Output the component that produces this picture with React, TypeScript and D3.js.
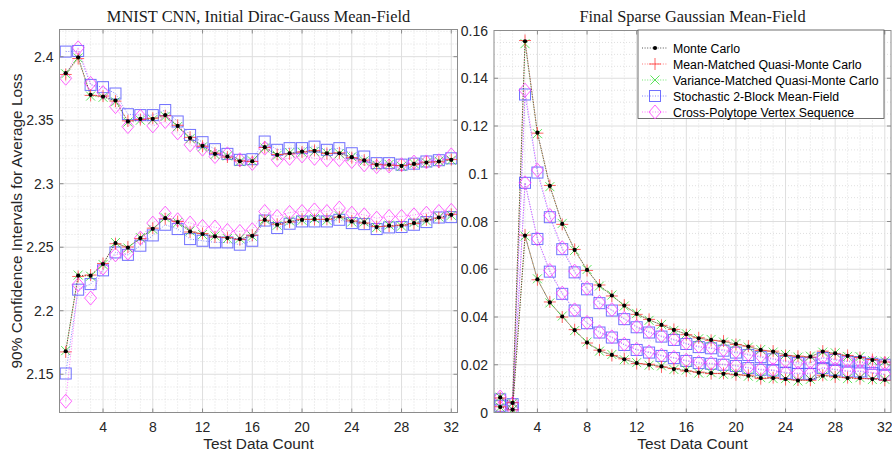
import React, { useEffect, useRef } from 'react';
import * as d3 from 'd3';

// test data count (x axis)
const testCounts = [1, 2, 3, 4, 5, 6, 7, 8, 9, 10, 11, 12, 13, 14, 15, 16, 17, 18, 19, 20, 21, 22, 23, 24, 25, 26, 27, 28, 29, 30, 31, 32];
const xTicks = [4, 8, 12, 16, 20, 24, 28, 32];

const methodNames = [
  'Monte Carlo',
  'Mean-Matched Quasi-Monte Carlo',
  'Variance-Matched Quasi-Monte Carlo',
  'Stochastic 2-Block Mean-Field',
  'Cross-Polytope Vertex Sequence',
];

// left panel: MNIST CNN, initial Dirac-Gauss mean-field (upper / lower CI bounds)
const mnistMcHi = [2.387, 2.3995, 2.370, 2.3686, 2.3655, 2.349, 2.351, 2.351, 2.354, 2.3455, 2.336, 2.3298, 2.3235, 2.3214, 2.3177, 2.3177, 2.3288, 2.3227, 2.324, 2.3253, 2.3258, 2.324, 2.324, 2.3209, 2.3183, 2.3149, 2.3149, 2.314, 2.3156, 2.3167, 2.3175, 2.3188];
const mnistMmHi = [2.386, 2.3985, 2.3695, 2.3690, 2.3650, 2.3495, 2.3505, 2.3515, 2.3535, 2.3460, 2.3365, 2.3295, 2.3240, 2.3210, 2.3180, 2.3175, 2.3285, 2.3230, 2.3235, 2.3250, 2.3262, 2.3238, 2.3243, 2.3205, 2.3186, 2.3152, 2.3146, 2.3143, 2.3153, 2.3170, 2.3172, 2.3190];
const mnistVmHi = [2.3865, 2.3990, 2.3690, 2.3680, 2.3645, 2.3485, 2.3500, 2.3505, 2.3530, 2.3450, 2.3355, 2.3290, 2.3230, 2.3218, 2.3174, 2.3180, 2.3282, 2.3224, 2.3244, 2.3248, 2.3255, 2.3242, 2.3237, 2.3212, 2.3180, 2.3146, 2.3152, 2.3137, 2.3159, 2.3164, 2.3178, 2.3185];
const mnistS2bHi = [2.404, 2.4045, 2.3778, 2.376, 2.371, 2.3547, 2.354, 2.354, 2.358, 2.349, 2.3384, 2.3327, 2.3272, 2.3235, 2.3188, 2.3193, 2.3332, 2.3267, 2.328, 2.328, 2.3292, 2.3267, 2.328, 2.324, 2.3214, 2.3162, 2.3162, 2.315, 2.3158, 2.3175, 2.3185, 2.320];
const mnistCpHi = [2.383, 2.407, 2.379, 2.3717, 2.3607, 2.345, 2.353, 2.3455, 2.349, 2.340, 2.3306, 2.3272, 2.3214, 2.3235, 2.3188, 2.316, 2.328, 2.3188, 2.320, 2.3219, 2.320, 2.3188, 2.319, 2.3175, 2.3149, 2.3135, 2.314, 2.315, 2.317, 2.3172, 2.318, 2.3227];

const mnistMcLo = [2.1681, 2.2276, 2.2276, 2.2368, 2.2533, 2.2498, 2.2572, 2.2645, 2.2729, 2.2698, 2.2624, 2.2604, 2.2585, 2.2572, 2.2564, 2.259, 2.2716, 2.2677, 2.2703, 2.2716, 2.2722, 2.2716, 2.2742, 2.2703, 2.2695, 2.2659, 2.267, 2.267, 2.269, 2.2711, 2.2734, 2.2755];
const mnistMmLo = [2.1676, 2.2270, 2.2281, 2.2372, 2.2528, 2.2502, 2.2568, 2.2650, 2.2724, 2.2702, 2.2620, 2.2608, 2.2581, 2.2576, 2.2560, 2.2594, 2.2712, 2.2681, 2.2699, 2.2720, 2.2718, 2.2720, 2.2738, 2.2707, 2.2691, 2.2663, 2.2666, 2.2674, 2.2686, 2.2715, 2.2730, 2.2759];
const mnistVmLo = [2.1686, 2.2281, 2.2272, 2.2364, 2.2537, 2.2494, 2.2576, 2.2641, 2.2733, 2.2694, 2.2628, 2.2600, 2.2589, 2.2568, 2.2568, 2.2586, 2.2720, 2.2673, 2.2707, 2.2712, 2.2726, 2.2712, 2.2746, 2.2699, 2.2699, 2.2655, 2.2674, 2.2666, 2.2694, 2.2707, 2.2738, 2.2751];
const mnistS2bLo = [2.1506, 2.2166, 2.221, 2.2318, 2.2459, 2.244, 2.2512, 2.2593, 2.2677, 2.2643, 2.2564, 2.2551, 2.2538, 2.2538, 2.252, 2.2551, 2.271, 2.2651, 2.2685, 2.2703, 2.2703, 2.2703, 2.2716, 2.269, 2.2682, 2.2643, 2.2656, 2.2659, 2.2677, 2.2698, 2.2734, 2.2737];
const mnistCpLo = [2.1288, 2.2205, 2.210, 2.2336, 2.244, 2.2454, 2.2572, 2.269, 2.2768, 2.2716, 2.269, 2.2664, 2.2659, 2.2632, 2.2624, 2.2638, 2.2781, 2.2742, 2.2774, 2.2781, 2.2794, 2.2781, 2.2808, 2.2768, 2.2755, 2.2729, 2.2742, 2.2742, 2.2755, 2.2768, 2.2781, 2.279];

// right panel: final sparse Gaussian mean-field
const sparseMcHi = [0.0063, 0.0040, 0.1555, 0.1172, 0.0949, 0.0790, 0.0681, 0.0597, 0.0532, 0.0490, 0.0448, 0.0413, 0.0388, 0.0367, 0.0346, 0.0328, 0.0311, 0.0304, 0.0297, 0.0287, 0.0276, 0.0262, 0.0255, 0.0241, 0.0234, 0.0234, 0.0255, 0.0248, 0.0237, 0.0232, 0.0220, 0.0213];
const sparseMmHi = [0.0061, 0.0041, 0.1558, 0.1170, 0.0951, 0.0788, 0.0683, 0.0595, 0.0534, 0.0488, 0.0450, 0.0411, 0.0390, 0.0365, 0.0348, 0.0326, 0.0313, 0.0302, 0.0299, 0.0285, 0.0278, 0.0260, 0.0257, 0.0239, 0.0236, 0.0232, 0.0257, 0.0246, 0.0239, 0.0230, 0.0222, 0.0211];
const sparseVmHi = [0.0064, 0.0039, 0.1545, 0.1168, 0.0946, 0.0792, 0.0679, 0.0599, 0.0530, 0.0492, 0.0446, 0.0415, 0.0386, 0.0369, 0.0344, 0.0330, 0.0309, 0.0306, 0.0295, 0.0289, 0.0274, 0.0264, 0.0253, 0.0243, 0.0232, 0.0236, 0.0253, 0.0250, 0.0235, 0.0234, 0.0218, 0.0215];
const sparseS2bHi = [0.0055, 0.0035, 0.1332, 0.1005, 0.0818, 0.0684, 0.0587, 0.0516, 0.0458, 0.0427, 0.0391, 0.0357, 0.0335, 0.0318, 0.0304, 0.0287, 0.0274, 0.0269, 0.0259, 0.0251, 0.0241, 0.0232, 0.0223, 0.0213, 0.0207, 0.0207, 0.0228, 0.0220, 0.0213, 0.0210, 0.0204, 0.0200];
const sparseCpHi = [0.0065, 0.0038, 0.1350, 0.1015, 0.0825, 0.0690, 0.0592, 0.0521, 0.0462, 0.0431, 0.0395, 0.0361, 0.0339, 0.0322, 0.0308, 0.0291, 0.0278, 0.0272, 0.0263, 0.0256, 0.0245, 0.0236, 0.0227, 0.0217, 0.0211, 0.0211, 0.0232, 0.0224, 0.0217, 0.0214, 0.0208, 0.0204];

const sparseMcLo = [0.0023, 0.0012, 0.0741, 0.0558, 0.0461, 0.0402, 0.0345, 0.0293, 0.0259, 0.0241, 0.0223, 0.0207, 0.0200, 0.0193, 0.0182, 0.0176, 0.0167, 0.0165, 0.0162, 0.0160, 0.0154, 0.0144, 0.0144, 0.0140, 0.0134, 0.0137, 0.0154, 0.0151, 0.0144, 0.0144, 0.0140, 0.0137];
const sparseMmLo = [0.0024, 0.0011, 0.0743, 0.0556, 0.0463, 0.0400, 0.0347, 0.0291, 0.0261, 0.0239, 0.0225, 0.0205, 0.0202, 0.0191, 0.0184, 0.0174, 0.0169, 0.0163, 0.0164, 0.0158, 0.0156, 0.0142, 0.0146, 0.0138, 0.0136, 0.0135, 0.0156, 0.0149, 0.0146, 0.0142, 0.0142, 0.0135];
const sparseVmLo = [0.0022, 0.0013, 0.0739, 0.0560, 0.0459, 0.0404, 0.0343, 0.0295, 0.0257, 0.0243, 0.0221, 0.0209, 0.0198, 0.0195, 0.0180, 0.0178, 0.0165, 0.0167, 0.0160, 0.0162, 0.0152, 0.0146, 0.0142, 0.0142, 0.0132, 0.0139, 0.0152, 0.0153, 0.0142, 0.0146, 0.0138, 0.0139];
const sparseS2bLo = [0.0028, 0.0018, 0.0962, 0.0727, 0.0590, 0.0497, 0.0427, 0.0374, 0.0335, 0.0314, 0.0283, 0.0262, 0.0251, 0.0237, 0.0228, 0.0216, 0.0207, 0.0204, 0.0200, 0.0195, 0.0186, 0.0179, 0.0176, 0.0165, 0.0162, 0.0162, 0.0186, 0.0179, 0.0172, 0.0172, 0.0165, 0.0158];
const sparseCpLo = [0.0020, 0.0015, 0.0962, 0.0727, 0.0595, 0.0500, 0.0430, 0.0377, 0.0338, 0.0317, 0.0286, 0.0265, 0.0254, 0.0240, 0.0231, 0.0219, 0.0210, 0.0207, 0.0203, 0.0198, 0.0189, 0.0182, 0.0179, 0.0168, 0.0165, 0.0165, 0.0189, 0.0182, 0.0175, 0.0175, 0.0168, 0.0161];

const mnistYTicks = [2.15, 2.2, 2.25, 2.3, 2.35, 2.4];
const sparseYTicks = [0, 0.02, 0.04, 0.06, 0.08, 0.1, 0.12, 0.14, 0.16];

// style per method, same order as methodNames
const styles = [
  { color: '#000000', marker: 'dot' },
  { color: '#ff3c3c', marker: 'plus' },
  { color: '#33dd33', marker: 'cross' },
  { color: '#4d4dff', marker: 'square' },
  { color: '#ff3dff', marker: 'diamond' },
];
// drawing order (black dots end up on top)
const drawOrder = [3, 4, 2, 1, 0];

const SANS = 'Liberation Sans, Arial, Helvetica, sans-serif';
const SERIF = 'Liberation Serif, Times New Roman, serif';

function addMarker(sel: any, kind: string, color: string, cx: number, cy: number) {
  if (kind === 'dot') {
    sel.append('circle').attr('cx', cx).attr('cy', cy).attr('r', 2.1).attr('fill', color);
  } else if (kind === 'plus') {
    sel.append('path').attr('d', `M${cx - 6},${cy}H${cx + 6}M${cx},${cy - 6}V${cy + 6}`)
      .attr('stroke', color).attr('stroke-width', 1).attr('fill', 'none').attr('opacity', 0.8);
  } else if (kind === 'cross') {
    sel.append('path').attr('d', `M${cx - 4.5},${cy - 4.5}L${cx + 4.5},${cy + 4.5}M${cx - 4.5},${cy + 4.5}L${cx + 4.5},${cy - 4.5}`)
      .attr('stroke', color).attr('stroke-width', 1).attr('fill', 'none').attr('opacity', 0.8);
  } else if (kind === 'square') {
    sel.append('rect').attr('x', cx - 5.5).attr('y', cy - 5.5).attr('width', 11).attr('height', 11)
      .attr('stroke', color).attr('stroke-width', 1).attr('fill', 'none').attr('opacity', 0.8);
  } else if (kind === 'diamond') {
    sel.append('path').attr('d', `M${cx},${cy - 7}L${cx + 6},${cy}L${cx},${cy + 7}L${cx - 6},${cy}Z`)
      .attr('stroke', color).attr('stroke-width', 1).attr('fill', 'none').attr('opacity', 0.8);
  }
}

function drawPanel(svg: any, o: any) {
  const x = d3.scaleLinear().domain([0.5, 32.5]).range([o.left, o.left + o.width]);
  const y = d3.scaleLinear().domain(o.yDomain).range([o.top + o.height, o.top]);
  const g = svg.append('g');
  const x0 = o.left, x1 = o.left + o.width, y0 = o.top, y1 = o.top + o.height;

  // minor grid
  g.selectAll('line.xm').data(testCounts.filter(d => !xTicks.includes(d))).join('line')
    .attr('x1', (d: number) => x(d)).attr('x2', (d: number) => x(d)).attr('y1', y0).attr('y2', y1)
    .attr('stroke', '#d8d8d8').attr('stroke-width', 0.8).attr('stroke-dasharray', '1,2');
  g.selectAll('line.ym').data(o.yMinor).join('line')
    .attr('y1', (d: number) => y(d)).attr('y2', (d: number) => y(d)).attr('x1', x0).attr('x2', x1)
    .attr('stroke', '#d8d8d8').attr('stroke-width', 0.8).attr('stroke-dasharray', '1,2');
  // major grid
  g.selectAll('line.xg').data(xTicks).join('line')
    .attr('x1', (d: number) => x(d)).attr('x2', (d: number) => x(d)).attr('y1', y0).attr('y2', y1)
    .attr('stroke', '#dedede').attr('stroke-width', 1);
  g.selectAll('line.yg').data(o.yTicks).join('line')
    .attr('y1', (d: number) => y(d)).attr('y2', (d: number) => y(d)).attr('x1', x0).attr('x2', x1)
    .attr('stroke', '#dedede').attr('stroke-width', 1);

  // series
  const clipId = 'clip' + o.id;
  svg.append('clipPath').attr('id', clipId).append('rect')
    .attr('x', x0).attr('y', y0 - 2).attr('width', o.width).attr('height', o.height + 2);
  const plot = g.append('g').attr('clip-path', `url(#${clipId})`);
  const line = d3.line<number>().x((_, i) => x(testCounts[i])).y(d => y(d));
  drawOrder.forEach(k => {
    const st = styles[k];
    [o.hi[k], o.lo[k]].forEach((vals: number[]) => {
      plot.append('path').attr('d', line(vals)).attr('fill', 'none')
        .attr('stroke', st.color).attr('stroke-width', 0.9).attr('stroke-dasharray', '1,1.6')
        .attr('opacity', k === 0 ? 0.7 : 0.75);
    });
  });
  drawOrder.forEach(k => {
    const st = styles[k];
    [o.hi[k], o.lo[k]].forEach((vals: number[]) => {
      vals.forEach((v, i) => addMarker(plot, st.marker, st.color, x(testCounts[i]), y(v)));
    });
  });

  // box
  g.append('rect').attr('x', x0).attr('y', y0).attr('width', o.width).attr('height', o.height)
    .attr('fill', 'none').attr('stroke', '#8c8c8c').attr('stroke-width', 1);
  // ticks (inward)
  xTicks.forEach(t => {
    g.append('line').attr('x1', x(t)).attr('x2', x(t)).attr('y1', y1).attr('y2', y1 - 4).attr('stroke', '#8c8c8c');
    g.append('line').attr('x1', x(t)).attr('x2', x(t)).attr('y1', y0).attr('y2', y0 + 4).attr('stroke', '#8c8c8c');
  });
  o.yTicks.forEach((t: number) => {
    g.append('line').attr('x1', x0).attr('x2', x0 + 4).attr('y1', y(t)).attr('y2', y(t)).attr('stroke', '#8c8c8c');
    g.append('line').attr('x1', x1).attr('x2', x1 - 4).attr('y1', y(t)).attr('y2', y(t)).attr('stroke', '#8c8c8c');
  });
  // tick labels
  g.selectAll('text.xt').data(xTicks).join('text')
    .attr('x', (d: number) => x(d)).attr('y', y1 + 19.5).attr('text-anchor', 'middle')
    .attr('font-family', SANS).attr('font-size', 14).attr('fill', '#262626').text((d: number) => d);
  g.selectAll('text.yt').data(o.yTicks).join('text')
    .attr('x', x0 - 6).attr('y', (d: number) => y(d) + 5).attr('text-anchor', 'end')
    .attr('font-family', SANS).attr('font-size', 14).attr('fill', '#262626').text((d: number) => d);

  // title and x label
  g.append('text').attr('x', (x0 + x1) / 2).attr('y', 21.5).attr('text-anchor', 'middle')
    .attr('font-family', SERIF).attr('font-size', 16.4).attr('fill', '#1a1a1a').text(o.title);
  g.append('text').attr('x', (x0 + x1) / 2).attr('y', 449).attr('text-anchor', 'middle')
    .attr('font-family', SANS).attr('font-size', 15.4).attr('fill', '#262626').text('Test Data Count');
  return { x, y };
}

function drawLegend(svg: any, left: number, top: number, width: number) {
  const g = svg.append('g');
  g.append('rect').attr('x', left).attr('y', top).attr('width', width).attr('height', 88.5)
    .attr('fill', '#ffffff').attr('stroke', '#4d4d4d').attr('stroke-width', 0.8);
  methodNames.forEach((name, k) => {
    const cy = top + 18 + k * 16;
    const st = styles[k];
    g.append('line').attr('x1', left + 4).attr('x2', left + 30).attr('y1', cy).attr('y2', cy)
      .attr('stroke', st.color).attr('stroke-width', 0.9).attr('stroke-dasharray', '1,1.6').attr('opacity', 0.75);
    addMarker(g, st.marker, st.color, left + 17, cy);
    g.append('text').attr('x', left + 35).attr('y', cy + 4.5).attr('font-family', SANS)
      .attr('font-size', 12.3).attr('fill', '#000').text(name);
  });
}

export default function App() {
  const ref = useRef<SVGSVGElement>(null);

  useEffect(() => {
    const svg = d3.select(ref.current);
    svg.selectAll('*').remove();
    svg.append('rect').attr('width', 892).attr('height', 453).attr('fill', '#ffffff');

    drawPanel(svg, {
      id: 'l', left: 59.5, top: 29.5, width: 398, height: 383,
      yDomain: [2.1199, 2.4214], yTicks: mnistYTicks, yMinor: d3.range(2.13, 2.42, 0.01).map(v => +v.toFixed(2)).filter(v => !mnistYTicks.includes(v)),
      title: 'MNIST CNN, Initial Dirac-Gauss Mean-Field',
      hi: [mnistMcHi, mnistMmHi, mnistVmHi, mnistS2bHi, mnistCpHi],
      lo: [mnistMcLo, mnistMmLo, mnistVmLo, mnistS2bLo, mnistCpLo],
    });
    drawPanel(svg, {
      id: 'r', left: 494, top: 30.5, width: 397, height: 382,
      yDomain: [0, 0.16], yTicks: sparseYTicks, yMinor: d3.range(0.005, 0.16, 0.005).map(v => +v.toFixed(3)).filter(v => !sparseYTicks.includes(v)),
      title: 'Final Sparse Gaussian Mean-Field',
      hi: [sparseMcHi, sparseMmHi, sparseVmHi, sparseS2bHi, sparseCpHi],
      lo: [sparseMcLo, sparseMmLo, sparseVmLo, sparseS2bLo, sparseCpLo],
    });
    drawLegend(svg, 638, 30, 246);

    svg.append('text').attr('transform', 'translate(21.5,221) rotate(-90)').attr('text-anchor', 'middle')
      .attr('font-family', SANS).attr('font-size', 15.4).attr('fill', '#262626')
      .text('90% Confidence Intervals for Average Loss');
  }, []);

  return (
    <svg ref={ref} width={892} height={453} style={{ position: 'absolute', left: 0, top: 0, display: 'block' }} />
  );
}
